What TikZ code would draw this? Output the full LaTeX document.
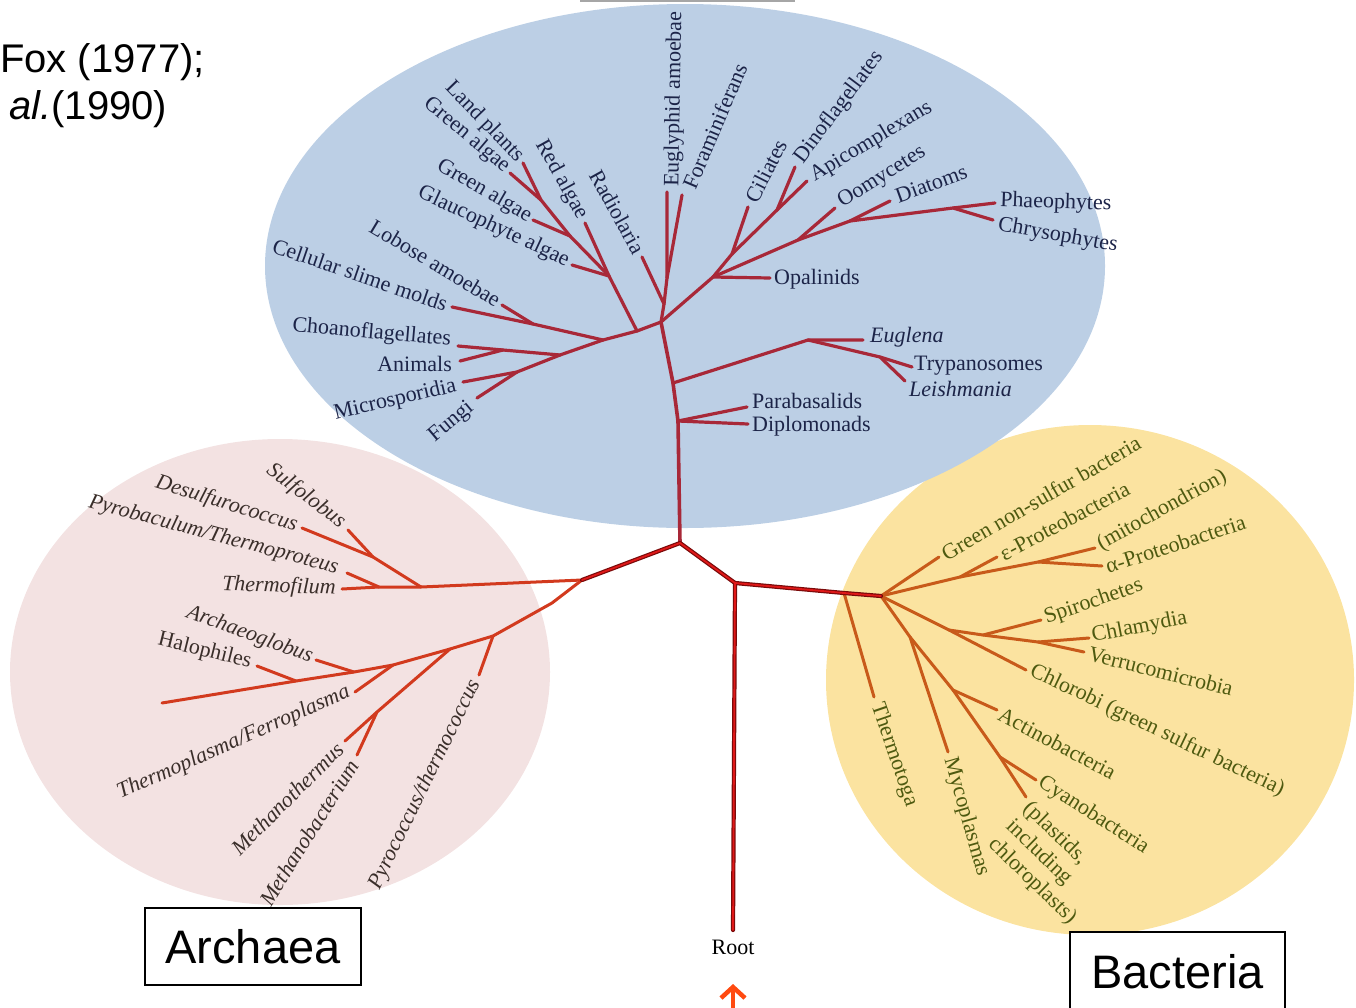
\documentclass[tikz,border=0pt]{standalone}
\usepackage{fontspec}
\setmainfont{Liberation Serif}
\newfontfamily\arialf{Liberation Sans}
\usetikzlibrary{arrows.meta}
\definecolor{bluebg}{HTML}{BCCFE5}
\definecolor{pinkbg}{HTML}{F3E2E2}
\definecolor{yellowbg}{HTML}{FBE3A0}
\definecolor{eukline}{HTML}{A82838}
\definecolor{arcline}{HTML}{D23A1E}
\definecolor{bacline}{HTML}{C85A1A}
\definecolor{stemdark}{HTML}{7A0A0A}
\definecolor{stemred}{HTML}{E01818}
\definecolor{euktext}{HTML}{1C2448}
\definecolor{arctext}{HTML}{3A2E2A}
\definecolor{bactext}{HTML}{4E5A10}
\definecolor{arrowc}{HTML}{FF4A10}
\tikzset{
  eukbr/.style={draw=eukline, line width=3.2pt, line cap=round, line join=round},
  arcbr/.style={draw=arcline, line width=3pt, line cap=round, line join=round},
  bacbr/.style={draw=bacline, line width=3pt, line cap=round, line join=round},
  stemout/.style={draw=stemdark, line width=4.2pt, line cap=round, line join=round},
  stemin/.style={draw=stemred, line width=1.8pt, line cap=round, line join=round},
  eukl/.style={font=\fontsize{22}{22}\selectfont, text=euktext, inner sep=1pt},
  arcl/.style={font=\fontsize{22}{22}\selectfont\itshape, text=arctext, inner sep=1pt},
  bacl/.style={font=\fontsize{22}{22}\selectfont, text=bactext, inner sep=1pt},
  domainbox/.style={draw=black, line width=1.4pt, fill=white, font=\arialf\fontsize{47}{47}\selectfont, inner sep=0pt}
}
\begin{document}
\begin{tikzpicture}[x=1pt,y=-1pt]
\useasboundingbox (0,0) rectangle (1356,1007);
% backgrounds
\fill[pinkbg] (280,672) ellipse [x radius=270, y radius=233];
\fill[yellowbg] (1090,680) ellipse [x radius=264, y radius=255];
\fill[bluebg] (685,266) ellipse [x radius=420, y radius=262];
\draw[gray!70, line width=2pt] (580,1) -- (795,1);

% citation text
\node[anchor=base west, font=\arialf\fontsize{40}{40}\selectfont, inner sep=0pt] (cite1) at (0,72) {Fox (1977);};
\node[anchor=base west, font=\arialf\fontsize{40}{40}\selectfont, inner sep=0pt] (cite2) at (9,119) {\itshape al.\upshape(1990)};

% central coordinates
\coordinate (root) at (733,930);
\coordinate (j1) at (735,583);
\coordinate (c0) at (680,543);
\coordinate (bt) at (844,593);
\coordinate (b0) at (881,596);
\coordinate (a0) at (582,580);
\coordinate (ep0) at (678,421);
\coordinate (eg0) at (673,383);
\coordinate (e0) at (661,322);

% ---------- Eukarya ----------
\coordinate (el1) at (637,331);
\coordinate (el2) at (603,340);
\coordinate (es) at (533,324);
\coordinate (tSlime) at (452,307);
\coordinate (tLobose) at (502,305);
\coordinate (el3) at (560,355);
\coordinate (ea) at (503,350);
\coordinate (tChoano) at (458,346);
\coordinate (tAnimals) at (460,361);
\coordinate (ef) at (517,372);
\coordinate (tMicro) at (463,382);
\coordinate (tFungi) at (477,398);
\coordinate (ep1) at (609,276);
\coordinate (tGlauc) at (572,265);
\coordinate (tRed) at (585,223);
\coordinate (ep2) at (570,236);
\coordinate (tGreenB) at (533,220);
\coordinate (ep3) at (541,200);
\coordinate (tLand) at (523,163);
\coordinate (tGreenA) at (510,173);
\coordinate (er) at (664,304);
\coordinate (tRadio) at (642,257);
\coordinate (eu) at (667,278);
\coordinate (tEugly) at (667,192);
\coordinate (tForam) at (682,195);
\coordinate (er1) at (713,277);
\coordinate (tOpal) at (770,278);
\coordinate (ea1) at (732,254);
\coordinate (tCil) at (748,207);
\coordinate (ea2) at (777,210);
\coordinate (tDino) at (795,167);
\coordinate (tApico) at (807,181);
\coordinate (es1) at (798,240);
\coordinate (tOomy) at (835,208);
\coordinate (es2) at (850,221);
\coordinate (tDiat) at (890,201);
\coordinate (es3) at (953,208);
\coordinate (tPhaeo) at (995,203);
\coordinate (tChryso) at (993,220);
\coordinate (eg1) at (808,340);
\coordinate (tEugl) at (863,340);
\coordinate (eg2) at (880,357);
\coordinate (tTryp) at (912,367);
\coordinate (tLeish) at (905,381);
\coordinate (tPara) at (747,407);
\coordinate (tDiplo) at (748,424);

\draw[eukbr, line width=3.6pt] (c0) -- (ep0) -- (eg0) -- (e0);
\draw[eukbr] (e0) -- (el1) -- (el2) -- (es) -- (tSlime);
\draw[eukbr] (es) -- (tLobose);
\draw[eukbr] (el2) -- (el3) -- (ea) -- (tChoano);
\draw[eukbr] (ea) -- (tAnimals);
\draw[eukbr] (el3) -- (ef) -- (tMicro);
\draw[eukbr] (ef) -- (tFungi);
\draw[eukbr] (el1) -- (ep1) -- (ep2) -- (ep3) -- (tLand);
\draw[eukbr] (ep3) -- (tGreenA);
\draw[eukbr] (ep2) -- (tGreenB);
\draw[eukbr] (ep1) -- (tGlauc);
\draw[eukbr] (ep1) -- (tRed);
\draw[eukbr] (e0) -- (er) -- (tRadio);
\draw[eukbr] (er) -- (eu) -- (tEugly);
\draw[eukbr] (eu) -- (tForam);
\draw[eukbr] (e0) -- (er1) -- (es1) -- (es2) -- (es3) -- (tPhaeo);
\draw[eukbr] (es3) -- (tChryso);
\draw[eukbr] (es2) -- (tDiat);
\draw[eukbr] (es1) -- (tOomy);
\draw[eukbr] (er1) -- (tOpal);
\draw[eukbr] (er1) -- (ea1) -- (tCil);
\draw[eukbr] (ea1) -- (ea2) -- (tDino);
\draw[eukbr] (ea2) -- (tApico);
\draw[eukbr] (eg0) -- (eg1) -- (tEugl);
\draw[eukbr] (eg1) -- (eg2) -- (tTryp);
\draw[eukbr] (eg2) -- (tLeish);
\draw[eukbr] (ep0) -- (tPara);
\draw[eukbr] (ep0) -- (tDiplo);

\node[eukl, anchor=east, rotate=-46] (lLand) at (521,160) {Land plants};
\node[eukl, anchor=east, rotate=-40] (lGreenA) at (508,170) {Green algae};
\node[eukl, anchor=east, rotate=-30] (lGreenB) at (531,218) {Green algae};
\node[eukl, anchor=east, rotate=-25] (lGlauc) at (569,262) {Glaucophyte algae};
\node[eukl, anchor=east, rotate=-61] (lRed) at (583,219) {Red algae};
\node[eukl, anchor=east, rotate=-61] (lRadio) at (640,253) {Radiolaria};
\node[eukl, anchor=west, rotate=89] (lEugly) at (673,188) {Euglyphid amoebae};
\node[eukl, anchor=west, rotate=67] (lForam) at (688,189) {Foraminiferans};
\node[eukl, anchor=west, rotate=63] (lCil) at (750,202) {Ciliates};
\node[eukl, anchor=west, rotate=53] (lDino) at (798,162) {Dinoflagellates};
\node[eukl, anchor=west, rotate=31] (lApico) at (811,178) {Apicomplexans};
\node[eukl, anchor=west, rotate=32] (lOomy) at (839,204) {Oomycetes};
\node[eukl, anchor=west, rotate=20] (lDiat) at (895,197) {Diatoms};
\node[eukl, anchor=west, rotate=-2] (lPhaeo) at (999,201) {Phaeophytes};
\node[eukl, anchor=west, rotate=-10] (lChryso) at (997,225) {Chrysophytes};
\node[eukl, anchor=west] (lOpal) at (773,279) {Opalinids};
\node[eukl, anchor=west, font=\fontsize{22}{22}\selectfont\itshape] (lEugl) at (869,337) {Euglena};
\node[eukl, anchor=west] (lTryp) at (913,366) {Trypanosomes};
\node[eukl, anchor=west, font=\fontsize{22}{22}\selectfont\itshape] (lLeish) at (908,389) {Leishmania};
\node[eukl, anchor=west] (lPara) at (751,401) {Parabasalids};
\node[eukl, anchor=west] (lDiplo) at (751,426) {Diplomonads};
\node[eukl, anchor=east, rotate=-19] (lSlime) at (448,305) {Cellular slime molds};
\node[eukl, anchor=east, rotate=-31] (lLobose) at (500,302) {Lobose amoebae};
\node[eukl, anchor=east, rotate=-5] (lChoano) at (452,340) {Choanoflagellates};
\node[eukl, anchor=east] (lAnimals) at (453,364) {Animals};
\node[eukl, anchor=east, rotate=13] (lMicro) at (457,386) {Microsporidia};
\node[eukl, anchor=east, rotate=40] (lFungi) at (472,405) {Fungi};

% ---------- Archaea ----------
\coordinate (ac) at (421,587);
\coordinate (ap) at (379,587);
\coordinate (tThermofilum) at (342,589);
\coordinate (tPyro) at (347,573);
\coordinate (ad) at (373,557);
\coordinate (tDesulfo) at (302,528);
\coordinate (tSulfo) at (348,530);
\coordinate (ae0) at (552,603);
\coordinate (aPyroc) at (493,636);
\coordinate (tPyroc) at (479,675);
\coordinate (aMeth) at (450,649);
\coordinate (aMethB) at (377,712);
\coordinate (tMthermus) at (345,741);
\coordinate (tMbact) at (357,755);
\coordinate (aTpl) at (393,665);
\coordinate (tTpl) at (355,692);
\coordinate (aAglob) at (354,672);
\coordinate (tAglob) at (316,660);
\coordinate (aHalo) at (296,681);
\coordinate (tHalo) at (257,666);
\coordinate (tLong) at (162,703);

\draw[arcbr] (a0) -- (ac) -- (ap) -- (tThermofilum);
\draw[arcbr] (ap) -- (tPyro);
\draw[arcbr] (ac) -- (ad) -- (tDesulfo);
\draw[arcbr] (ad) -- (tSulfo);
\draw[arcbr] (a0) -- (ae0) -- (aPyroc) -- (aMeth) -- (aTpl) -- (aAglob) -- (aHalo) -- (tLong);
\draw[arcbr] (aPyroc) -- (tPyroc);
\draw[arcbr] (aMeth) -- (aMethB) -- (tMthermus);
\draw[arcbr] (aMethB) -- (tMbact);
\draw[arcbr] (aTpl) -- (tTpl);
\draw[arcbr] (aAglob) -- (tAglob);
\draw[arcbr] (aHalo) -- (tHalo);

\node[arcl, anchor=east, rotate=-37] (lSulfo) at (344,525) {Sulfolobus};
\node[arcl, anchor=east, rotate=-17] (lDesulfo) at (298,526) {Desulfurococcus};
\node[arcl, anchor=east, rotate=-15] (lPyro) at (339,569) {Pyrobaculum/Thermoproteus};
\node[arcl, anchor=east, rotate=-2] (lThermofilum) at (337,589) {Thermofilum};
\node[arcl, anchor=east, rotate=-20] (lAglob) at (313,658) {Archaeoglobus};
\node[arcl, anchor=east, rotate=-14, font=\fontsize{22}{22}\selectfont] (lHalo) at (252,663) {Halophiles};
\node[arcl, anchor=east, rotate=24] (lTpl) at (350,691) {Thermoplasma/Ferroplasma};
\node[arcl, anchor=east, rotate=45] (lMthermus) at (341,745) {Methanothermus};
\node[arcl, anchor=east, rotate=58] (lMbact) at (354,761) {Methanobacterium};
\node[arcl, anchor=east, rotate=64] (lPyroc) at (476,680) {Pyrococcus/thermococcus};

% ---------- Bacteria ----------
\coordinate (tThermotoga) at (874,697);
\coordinate (tGNS) at (939,557);
\coordinate (bp1) at (960,577);
\coordinate (tEps) at (997,557);
\coordinate (bp2) at (1038,562);
\coordinate (tMito) at (1095,548);
\coordinate (tAlpha) at (1102,566);
\coordinate (bc) at (949,630);
\coordinate (tChlorobi) at (1026,670);
\coordinate (bs1) at (983,635);
\coordinate (tSpiro) at (1041,620);
\coordinate (bs2) at (1038,642);
\coordinate (tChlam) at (1089,638);
\coordinate (tVerru) at (1084,652);
\coordinate (bm) at (910,637);
\coordinate (tMyco) at (948,752);
\coordinate (bac) at (953,690);
\coordinate (tActino) at (997,710);
\coordinate (bcy) at (1000,757);
\coordinate (tCyano) at (1036,780);
\coordinate (tPlastid) at (1026,797);

\draw[bacbr] (bt) -- (tThermotoga);
\draw[bacbr] (b0) -- (tGNS);
\draw[bacbr] (b0) -- (bp1) -- (tEps);
\draw[bacbr] (bp1) -- (bp2) -- (tMito);
\draw[bacbr] (bp2) -- (tAlpha);
\draw[bacbr] (b0) -- (bc) -- (tChlorobi);
\draw[bacbr] (bc) -- (bs1) -- (tSpiro);
\draw[bacbr] (bs1) -- (bs2) -- (tChlam);
\draw[bacbr] (bs2) -- (tVerru);
\draw[bacbr] (b0) -- (bm) -- (tMyco);
\draw[bacbr] (bm) -- (bac) -- (tActino);
\draw[bacbr] (bac) -- (bcy) -- (tCyano);
\draw[bacbr] (bcy) -- (tPlastid);

\node[bacl, anchor=west, rotate=-71] (lThermotoga) at (876,703) {Thermotoga};
\node[bacl, anchor=west, rotate=30] (lGNS) at (942,555) {Green non-sulfur bacteria};
\node[bacl, anchor=west, rotate=28] (lEps) at (1000,555) {ε-Proteobacteria};
\node[bacl, anchor=west, rotate=29] (lMito) at (1098,546) {(mitochondrion)};
\node[bacl, anchor=west, rotate=18] (lAlpha) at (1105,567) {α-Proteobacteria};
\node[bacl, anchor=west, rotate=19] (lSpiro) at (1044,619) {Spirochetes};
\node[bacl, anchor=west, rotate=11] (lChlam) at (1091,637) {Chlamydia};
\node[bacl, anchor=west, rotate=-14] (lVerru) at (1088,653) {Verrucomicrobia};
\node[bacl, anchor=west, rotate=-25.5] (lChlorobi) at (1030,670) {Chlorobi (green sulfur bacteria)};
\node[bacl, anchor=west, rotate=-28] (lActino) at (999,712) {Actinobacteria};
\node[bacl, anchor=west, rotate=-33] (lCyano) at (1039,780) {Cyanobacteria};
\node[bacl, anchor=north west, rotate=-44, align=left, font=\fontsize{22}{25}\selectfont] (lPlastid) at (1033,797) {(plastids,\\including\\chloroplasts)};
\node[bacl, anchor=west, rotate=-74] (lMyco) at (949,757) {Mycoplasmas};

% ---------- main stems ----------
\draw[stemout] (root) -- (j1) -- (c0) -- (a0);
\draw[stemout] (j1) -- (bt) -- (b0);
\draw[stemin] (root) -- (j1) -- (c0) -- (a0);
\draw[stemin] (j1) -- (bt) -- (b0);

% root label and arrow
\node[font=\fontsize{22}{22}\selectfont, inner sep=0pt] (rootlbl) at (733,947) {Root};
\coordinate (arrbase) at (733,1015);
\coordinate (arrtip) at (733,984);
\draw[arrowc, line width=4.5pt, -{Straight Barb[length=11pt, width=24pt]}] (arrbase) -- (arrtip);

% domain boxes
\node[domainbox, minimum width=216pt, minimum height=77pt] (archaea) at (253,946.5) {Archaea};
\node[domainbox, minimum width=215pt, minimum height=80pt] (bacteria) at (1177.5,972) {Bacteria};
\end{tikzpicture}
\end{document}
